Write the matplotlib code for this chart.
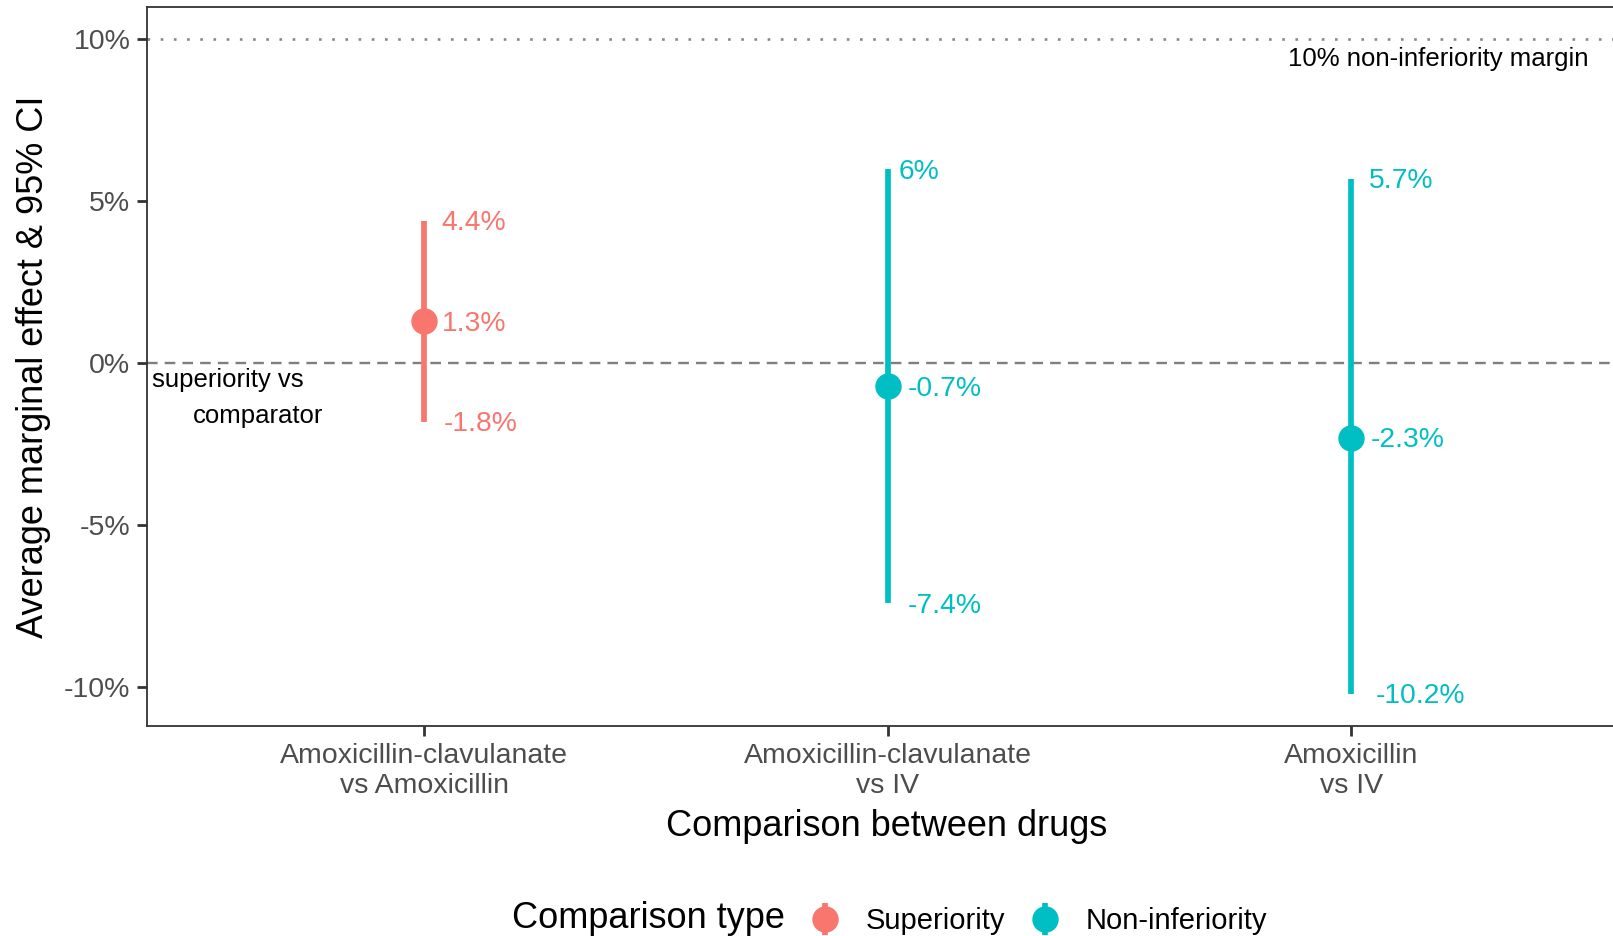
import numpy as np
import matplotlib
matplotlib.use("Agg")
import matplotlib.pyplot as plt
from matplotlib.ticker import FuncFormatter
from matplotlib.legend_handler import HandlerErrorbar

plt.rcParams['font.family'] = ['Liberation Sans', 'DejaVu Sans']

# Data
comparisons = ["Amoxicillin-clavulanate\nvs Amoxicillin",
               "Amoxicillin-clavulanate\nvs IV",
               "Amoxicillin\nvs IV"]
comp_type = ["Superiority", "Non-inferiority", "Non-inferiority"]
estimate = [1.3, -0.7, -2.3]
lower = [-1.8, -7.4, -10.2]
upper = [4.4, 6.0, 5.7]
y_ticks = [-10, -5, 0, 5, 10]
margin = 10

colors = {"Superiority": "#F8766D", "Non-inferiority": "#00BFC4"}

fig = plt.figure(figsize=(16.13, 9.36), dpi=100)
ax = fig.add_axes([147 / 1613, 1 - 726 / 936, 1 - 147 / 1613, (726 - 7.3) / 936])

x = np.arange(1, len(comparisons) + 1)

ax.set_xlim(0.402, 3.565)
ax.set_ylim(-11.2, 10.99)

# reference lines
ax.axhline(0, color="#7F7F7F", lw=1.7, ls=(0, (4.5, 3)), zorder=1)
ax.axhline(margin, color="#888888", lw=1.9, ls=(0, (1, 4)), zorder=1)

handles = {}
for ctype in ["Superiority", "Non-inferiority"]:
    idx = [i for i, t in enumerate(comp_type) if t == ctype]
    xs = x[idx]
    est = np.array(estimate)[idx]
    lo = np.array(lower)[idx]
    hi = np.array(upper)[idx]
    eb = ax.errorbar(xs, est, yerr=[est - lo, hi - est], fmt='o', color=colors[ctype],
                     ms=18, elinewidth=4.1, capsize=0, zorder=3, label=ctype)
    handles[ctype] = eb

# value labels, pushed right by about a quarter of their own width (like hjust=-0.27)
renderer = fig.canvas.get_renderer()
px_per_unit = ax.transData.transform((1, 0))[0] - ax.transData.transform((0, 0))[0]
for xi, e, lo, hi, t in zip(x, estimate, lower, upper, comp_type):
    for v in (hi, e, lo):
        txt = ax.text(xi, v - 0.08, f"{v:g}%", color=colors[t], fontsize=20.3,
                      ha="left", va="center", zorder=4)
        w = txt.get_window_extent(renderer).width
        txt.set_x(xi + 0.27 * w / px_per_unit)

ax.text(3.513, 9.38, "10% non-inferiority margin", fontsize=18.5, ha="right", va="center")
ax.text(0.413, -0.53, "superiority vs", fontsize=18.5, ha="left", va="center")
ax.text(0.50, -1.63, "comparator", fontsize=18.5, ha="left", va="center")

ax.set_xticks(x)
ax.set_xticklabels(comparisons)
ax.set_yticks(y_ticks)
ax.yaxis.set_major_formatter(FuncFormatter(lambda v, p: f"{v:g}%"))
ax.tick_params(axis="both", labelsize=20.5, labelcolor="#4D4D4D", color="#333333",
               length=7, width=2)
ax.tick_params(axis="x", pad=5.5)
ax.tick_params(axis="y", pad=5)

for s in ["left", "bottom", "top"]:
    ax.spines[s].set_color("#333333")
    ax.spines[s].set_linewidth(1.3)
ax.spines["right"].set_visible(False)

ax.set_xlabel("Comparison between drugs", fontsize=26)
ax.set_ylabel("Average marginal effect & 95% CI", fontsize=26)
ax.xaxis.set_label_coords((887 - 147) / (1613 - 147), -(827 - 726) / (726 - 7.3), transform=ax.transAxes)
ax.xaxis.label.set_va("center")
ax.yaxis.set_label_coords(-(147 - 34) / (1613 - 147), 0.5)
ax.yaxis.label.set_va("center")

# legend at the bottom
fig.text(512 / 1613, 1 - 919 / 936, "Comparison type", fontsize=26, ha="left", va="center")
fig.legend([handles["Superiority"], handles["Non-inferiority"]],
           ["Superiority", "Non-inferiority"], ncol=2, frameon=False,
           loc="center left", bbox_to_anchor=(784 / 1613, 1 - 921 / 936),
           fontsize=21, handlelength=1.0, handletextpad=0.9, columnspacing=0.85,
           handler_map={type(handles["Superiority"]): HandlerErrorbar(xerr_size=0.55)})

fig.savefig("out.png", dpi=100)
